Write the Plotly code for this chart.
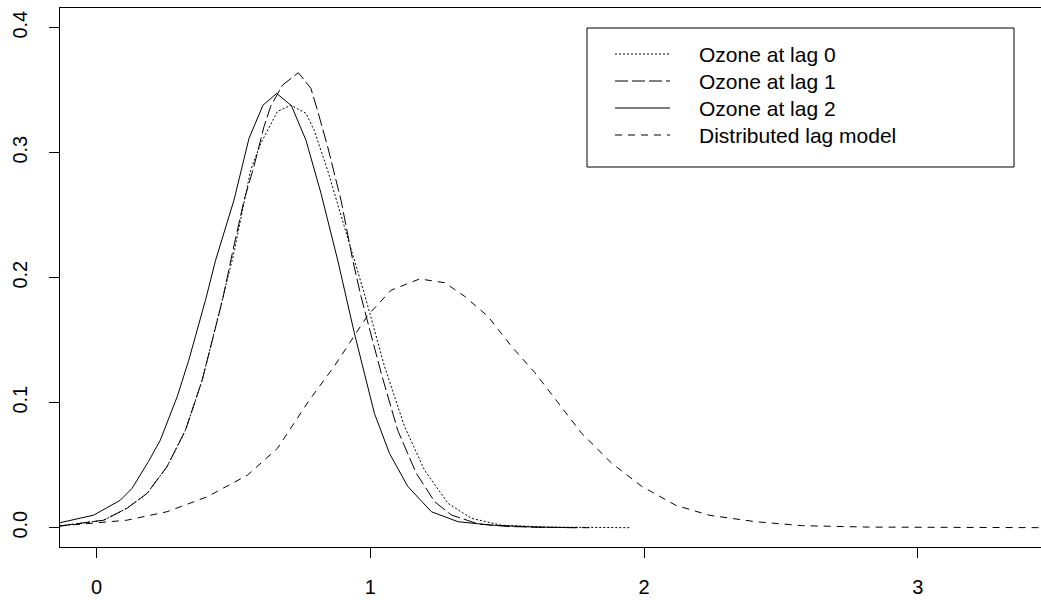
import plotly.graph_objects as go

# ---- data ----
lag0_x = [-0.133, 0.026, 0.111, 0.185, 0.258, 0.325, 0.386, 0.46, 0.50, 0.563, 0.60, 0.661,
          0.71, 0.765, 0.795, 0.844, 0.878, 0.905, 0.978, 1.052, 1.125, 1.198, 1.284, 1.369,
          1.479, 1.65, 1.95]
lag0_y = [0.0014, 0.006, 0.0155, 0.0275, 0.049, 0.078, 0.118, 0.182, 0.218, 0.286, 0.3075, 0.333,
          0.338, 0.3315, 0.318, 0.286, 0.262, 0.241, 0.1875, 0.129, 0.081, 0.046, 0.0195, 0.0075,
          0.002, 0.0005, 0.0]

lag1_x = [-0.133, 0.026, 0.111, 0.185, 0.258, 0.325, 0.386, 0.46, 0.496, 0.539, 0.575, 0.612,
          0.636, 0.679, 0.737, 0.783, 0.807, 0.844, 0.893, 0.936, 0.966, 1.04, 1.10, 1.168,
          1.235, 1.296, 1.394, 1.5, 1.65, 1.8]
lag1_y = [0.0014, 0.006, 0.0155, 0.0275, 0.049, 0.078, 0.118, 0.182, 0.2195, 0.262, 0.289, 0.321,
          0.337, 0.354, 0.364, 0.3515, 0.334, 0.305, 0.262, 0.214, 0.185, 0.1235, 0.078, 0.0435,
          0.0208, 0.0102, 0.003, 0.001, 0.0002, 0.0]

lag2_x = [-0.133, -0.011, 0.087, 0.130, 0.19, 0.233, 0.295, 0.337, 0.398, 0.435, 0.502, 0.557,
          0.608, 0.658, 0.712, 0.765, 0.82, 0.881, 0.942, 1.015, 1.07, 1.137, 1.223, 1.32,
          1.44, 1.6, 1.75]
lag2_y = [0.004, 0.010, 0.022, 0.0315, 0.053, 0.070, 0.105, 0.134, 0.182, 0.214, 0.262, 0.3115,
          0.338, 0.3474, 0.3376, 0.310, 0.2675, 0.214, 0.1555, 0.0915, 0.0595, 0.033, 0.0128, 0.0048,
          0.0021, 0.0005, 0.0]

dlm_x = [-0.133, 0.111, 0.258, 0.405, 0.551, 0.661, 0.777, 0.868, 0.991, 1.076, 1.18, 1.272,
         1.345, 1.43, 1.516, 1.601, 1.663, 1.772, 1.882, 1.992, 2.115, 2.237, 2.407, 2.579,
         2.82, 3.1, 3.5]
dlm_y = [0.0014, 0.006, 0.0128, 0.0248, 0.042, 0.0635, 0.102, 0.129, 0.170, 0.190, 0.199, 0.196,
         0.185, 0.169, 0.145, 0.124, 0.1065, 0.0755, 0.0515, 0.033, 0.018, 0.010, 0.0048, 0.0016,
         0.0005, 0.0001, 0.0]

series_names = ["Ozone at lag 0", "Ozone at lag 1", "Ozone at lag 2", "Distributed lag model"]
x_ticks = [0, 1, 2, 3]
y_ticks = [0.0, 0.1, 0.2, 0.3, 0.4]

# ---- styles ----
FONT = "Liberation Sans, Arial, Helvetica, sans-serif"
FS = 20
FS_LEG = 21
dashes = ["2px,2px", "13px,4px", "solid", "7px,6px"]

W, H = 1041, 600
ML, MR, MT, MB = 60, 0, 8, 53

fig = go.Figure()
for xs, ys, name, d in zip([lag0_x, lag1_x, lag2_x, dlm_x],
                           [lag0_y, lag1_y, lag2_y, dlm_y],
                           series_names, dashes):
    fig.add_trace(go.Scatter(x=xs, y=ys, mode="lines", name=name, showlegend=False,
                             line=dict(color="black", width=1, dash=d)))

# ---- manual legend (R-style box); positions given in window pixels ----
def px2paper(px, py):
    return (px - ML) / (W - ML - MR), (H - MB - py) / (H - MT - MB)

bx0, by0 = px2paper(587, 28)
bx1, by1 = px2paper(1014, 167)
fig.add_shape(type="rect", xref="paper", yref="paper", x0=bx0, y0=by1, x1=bx1, y1=by0,
              line=dict(color="black", width=1), fillcolor="white", layer="above")
row_y = [54, 81, 108, 135]
for name, d, ry in zip(series_names, dashes, row_y):
    lx0, ly = px2paper(615, ry)
    lx1, _ = px2paper(670, ry)
    fig.add_shape(type="line", xref="paper", yref="paper", x0=lx0, x1=lx1, y0=ly, y1=ly,
                  line=dict(color="black", width=1, dash=d), layer="above")
    tx, ty = px2paper(697, ry)
    fig.add_annotation(text=name, xref="paper", yref="paper", x=tx, y=ty, xanchor="left",
                       yanchor="middle", showarrow=False,
                       font=dict(family=FONT, size=FS_LEG, color="black"))

fig.update_layout(
    width=W, height=H,
    margin=dict(l=ML, r=MR, t=MT, b=MB, autoexpand=False),
    paper_bgcolor="white", plot_bgcolor="white",
    font=dict(family=FONT, size=FS, color="black"),
    showlegend=False,
)
fig.update_xaxes(range=[-0.1333, 3.4496], tickvals=x_ticks, ticktext=[str(v) for v in x_ticks],
                 ticks="outside", ticklen=10, tickwidth=1, tickcolor="black",
                 showline=True, linecolor="black", linewidth=1, mirror=True,
                 showgrid=False, zeroline=False, ticklabelstandoff=12)
fig.update_yaxes(range=[-0.01544, 0.41576], tickvals=y_ticks, ticktext=[f"{v:.1f}" for v in y_ticks],
                 ticks="outside", ticklen=10, tickwidth=1, tickcolor="black", tickangle=-90,
                 showline=True, linecolor="black", linewidth=1, mirror=False,
                 showgrid=False, zeroline=False, ticklabelstandoff=14)

fig.write_html("out.html",
               config={"displayModeBar": False},
               post_script="document.body.style.margin='0';document.body.style.overflow='hidden';")
